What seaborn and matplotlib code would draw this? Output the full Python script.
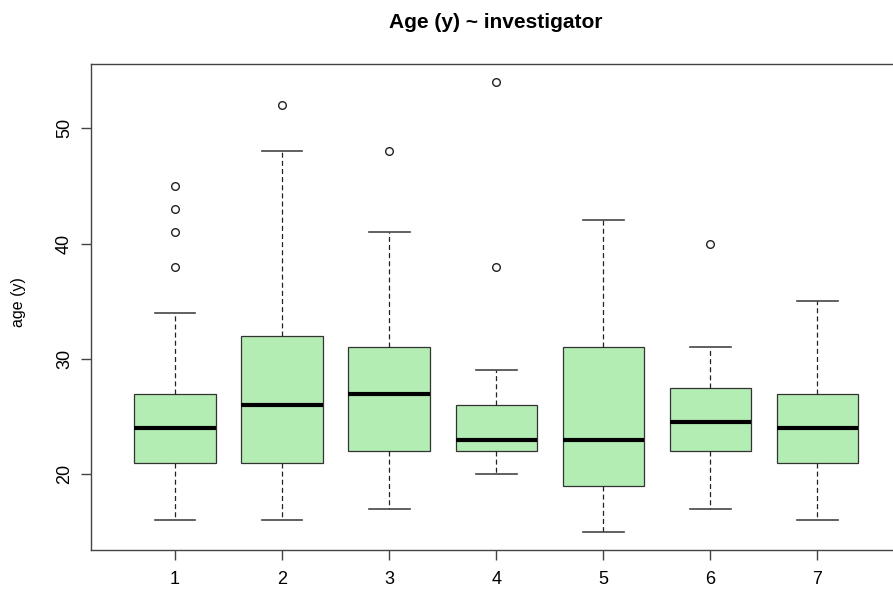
import pandas as pd
import matplotlib
matplotlib.use("Agg")
import matplotlib.pyplot as plt
import seaborn as sns

inv_1 = [16, 18, 19, 20, 21, 21, 22, 22, 23, 24, 24, 25, 25, 26, 27, 27, 34, 38, 41, 43, 45]
inv_2 = [16, 18, 19, 20, 21, 23, 24, 25, 26, 28, 30, 31, 32, 36, 40, 48, 52]
inv_3 = [17, 19, 20, 21, 22, 24, 25, 26, 27, 28, 29, 30, 31, 34, 37, 41, 48]
inv_4 = [20, 21, 21, 22, 22, 22, 23, 23, 23, 24, 25, 25, 26, 27, 29, 38, 54]
inv_5 = [15, 17, 18, 19, 21, 22, 23, 25, 28, 31, 35, 38, 42]
inv_6 = [17, 20, 22, 22, 23, 24, 25, 26, 27, 29, 31, 40]
inv_7 = [16, 19, 20, 21, 22, 23, 24, 25, 26, 27, 30, 33, 35]
groups = ["1", "2", "3", "4", "5", "6", "7"]
y_ticks = [20, 30, 40, 50]

box_fill = "#b4edb4"
axis_color = "#444444"

ages = [inv_1, inv_2, inv_3, inv_4, inv_5, inv_6, inv_7]
df = pd.DataFrame({
    "investigator": [g for g, a in zip(groups, ages) for _ in a],
    "age": [v for a in ages for v in a],
})

plt.rcParams["font.family"] = ["Liberation Sans", "DejaVu Sans"]

fig = plt.figure(figsize=(8.93, 5.90), dpi=100)
W, H = 893, 590
ax = fig.add_axes([91 / W, 1 - 550 / H, (901 - 91) / W, (550 - 64) / H])

# seaborn already draws the caps at half the box width, like R's staples
sns.boxplot(
    data=df, x="investigator", y="age", order=groups, ax=ax,
    color=box_fill, saturation=1, width=0.76, linecolor="black", linewidth=0.9,
    whis=1.5, fliersize=5.5,
    whiskerprops=dict(linestyle=(0, (4, 2.5)), color="#222222"),
    capprops=dict(color="#454545", linewidth=1.2),
    boxprops=dict(edgecolor="#333333"),
    medianprops=dict(linewidth=3, color="black"),
    flierprops=dict(marker="o", markerfacecolor="white", markeredgecolor="#222222",
                    markeredgewidth=1.0),
)

ax.set_xlim(-0.7845, 6.78)
ax.set_ylim(13.44, 55.56)
ax.set_yticks(y_ticks)
ax.set_yticklabels([str(t) for t in y_ticks], rotation=90, va="center")
ax.set_xlabel("")
ax.set_ylabel("age (y)", fontsize=11.5, va="center")
ax.yaxis.set_label_coords(-(91 - 18) / 810, 0.51)

for spine in ax.spines.values():
    spine.set_color(axis_color)
    spine.set_linewidth(1.0)
ax.tick_params(axis="both", length=7, width=1.0, color=axis_color, labelsize=13,
               labelcolor="black")
ax.tick_params(axis="x", pad=8)
ax.tick_params(axis="y", pad=6)

fig.text((91 + 901) / 2 / W, 1 - 22 / H, "Age (y) ~ investigator",
         ha="center", va="center", fontsize=15, fontweight="bold")

fig.savefig("out.png", dpi=100)
